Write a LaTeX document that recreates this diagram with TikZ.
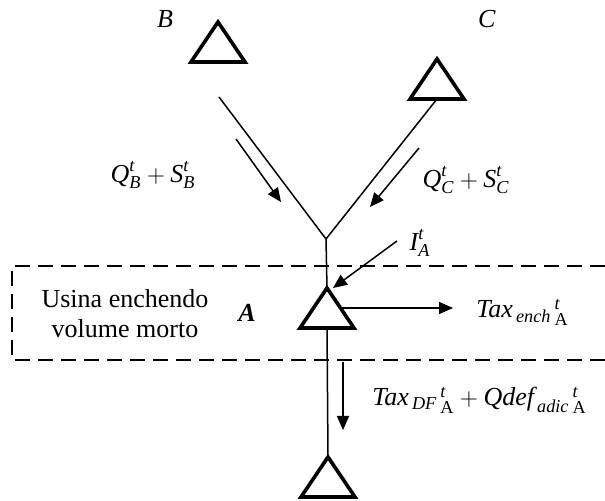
\documentclass[tikz,border=0pt]{standalone}
\usepackage{amsmath}
\usepackage{fontspec}
\setmainfont{Liberation Serif}
\usetikzlibrary{shapes.geometric, arrows.meta, positioning}
\tikzset{
  reservoir/.style={isosceles triangle, shape border rotate=90,
    isosceles triangle apex angle=68, draw=black, fill=white,
    line width=1.8pt, inner sep=0pt, outer sep=0pt, minimum height=20pt},
  flow/.style={-{Triangle[length=7pt,width=6pt]}, line width=0.75pt},
  line/.style={line width=0.75pt},
  lbl/.style={font=\fontsize{13}{15}\selectfont, inner sep=0pt},
  dashbox/.style={dash pattern=on 7.5pt off 4pt, line width=0.75pt}
}

\begin{document}
\begin{tikzpicture}[x=0.5pt, y=-0.5pt]
  \useasboundingbox (0,0) rectangle (605,501);
  \draw[dashbox] (605,266) -| (12,360) -- (605,360);

  \node[reservoir, anchor=apex] (B) at (218,22) {};
  \node[reservoir, anchor=apex] (C) at (437,59) {};
  \node[reservoir, anchor=apex] (A) at (327,288) {};
  \node[reservoir, anchor=apex] (D) at (328,457) {};

  \coordinate (bsrc) at (219,97);
  \coordinate (jn) at (326,239);
  \draw[line] (bsrc) -- (jn);
  \draw[line] (C.lower side) -- (jn);
  \draw[line] (jn) -- (A.apex);
  \draw[line] (A.lower side) -- (D.apex);

  \coordinate (qb1) at (236,139);
  \coordinate (qb2) at (281,202);
  \coordinate (qc1) at (419,148);
  \coordinate (qc2) at (370,207);
  \coordinate (inc) at (397,241);
  \coordinate (ench) at (453,309);
  \coordinate (df1) at (343,362);
  \coordinate (df2) at (343,430);
  \draw[flow] (qb1) -- (qb2);
  \draw[flow] (qc1) -- (qc2);
  \draw[flow] (inc) -- ([xshift=3pt]A.apex);
  \draw[flow] (A.right side) -- (A.right side -| ench);
  \draw[flow] (df1) -- (df2);

  \node[lbl] (labB) at (165,19) {\textit{B}};
  \node[lbl] (labC) at (487,19) {\textit{C}};
  \node[lbl] (labQB) at (153,175) {$\textit{Q}^{\textit{t}}_{\textit{B}}+\textit{S}^{\textit{t}}_{\textit{B}}$};
  \node[lbl] (labQC) at (466,180) {$\textit{Q}^{\textit{t}}_{\textit{C}}+\textit{S}^{\textit{t}}_{\textit{C}}$};
  \node[lbl] (labI) at (420,243) {$\textit{I}^{\textit{t}}_{\textit{A}}$};
  \node[lbl, align=center] (labUsina) at (125,314) {Usina enchendo\\volume morto};
  \node[lbl] (labA) at (247,313) {\textbf{\textit{A}}};
  \node[lbl, anchor=west] (labEnch) at (476,312) {$\textit{Tax}_{\,\textit{ench}}{}^{\,\textit{t}}_{\,\text{A}}$};
  \node[lbl, anchor=west] (labDF) at (372,400) {$\textit{Tax}_{\,\textit{DF}}{}^{\,\textit{t}}_{\,\text{A}}+\textit{Qdef}_{\,\textit{adic}}{}^{\,\textit{t}}_{\,\text{A}}$};
\end{tikzpicture}
\end{document}
